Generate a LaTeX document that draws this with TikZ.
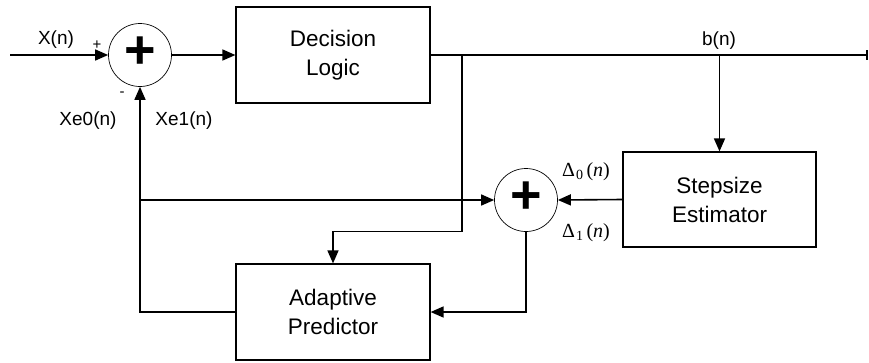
\documentclass[tikz,border=0pt]{standalone}
\usepackage{fontspec}
\setmainfont{Liberation Sans}
\newfontfamily\tnr{Liberation Serif}
\usetikzlibrary{arrows.meta,calc}
\begin{document}
\begin{tikzpicture}[x=1pt,y=-1pt,
  blk/.style={draw,line width=1.2pt,minimum width=194pt,minimum height=96pt,
    inner sep=0pt,font=\fontsize{22.5}{29}\selectfont,align=center},
  sumj/.style={draw,circle,line width=0.7pt,minimum size=63pt,inner sep=0pt},
  plussign/.style={inner sep=0pt,font=\fontsize{54}{54}\selectfont\bfseries},
  wire/.style={line width=1.6pt},
  arr/.style={wire,-{Triangle[length=13pt,width=11pt]}},
  lbl/.style={font=\fontsize{19}{19}\selectfont,inner sep=0pt},
  sgn/.style={font=\fontsize{15}{15}\selectfont,inner sep=0pt},
  dlbl/.style={font=\tnr\fontsize{20}{20}\selectfont,inner sep=0pt}]
\useasboundingbox (0,0) rectangle (869,362);

% blocks
\node[blk] (dl) at (333,55) {Decision\\Logic};
\node[blk] (ap) at (333,312) {Adaptive\\Predictor};
\node[blk,minimum width=193pt,minimum height=95pt] (se) at (719.5,199.5) {Stepsize\\Estimator};

% summing junctions
\node[sumj] (s1) at (140,55) {};
\node[plussign] (s1p) at (140,53) {+};
\node[sumj] (s2) at (526,200) {};
\node[plussign] (s2p) at (526,198) {+};

% free ends and branch points
\coordinate (in) at (10,55);
\coordinate (out) at (868,55);
\coordinate (br1) at (462,55);
\coordinate (br2) at (se.north |- dl.east);
\coordinate (fb) at (s1.south |- s2.west);
\coordinate (kink) at ($(ap.north)+(0,-32)$);

% forward path
\draw[arr] (in) -- (s1.west);
\draw[arr] (s1.east) -- (dl.west);
\draw[wire,-{Bar[width=10pt]}] (dl.east) -- (out);
\draw[arr] (br2) -- (se.north);

% decision feedback to predictor
\draw[wire] (br1) |- (kink);
\draw[arr] (kink) -- (ap.north);

% stepsize combination
\draw[arr] (se.west) -- (s2.east);
\draw[arr] (fb) -- (s2.west);
\draw[arr] (s2.south) |- (ap.east);

% prediction feedback
\draw[arr] (ap.west) -| (s1.south);

% labels
\node[lbl] (lx) at (56,40) {X(n)};
\node[sgn] (lplus) at (97,45) {+};
\node[sgn] (lminus) at (122,94) {-};
\node[lbl] (le0) at (88,121) {Xe0(n)};
\node[lbl] (le1) at (184,121) {Xe1(n)};
\node[lbl] (lb) at (719,41) {b(n)};
\node[dlbl] (ld0) at (586,172) {Δ\kern1pt\textsubscript{0}\kern3pt(\textit{n})};
\node[dlbl] (ld1) at (586,233) {Δ\kern1pt\textsubscript{1}\kern3pt(\textit{n})};
\end{tikzpicture}
\end{document}
